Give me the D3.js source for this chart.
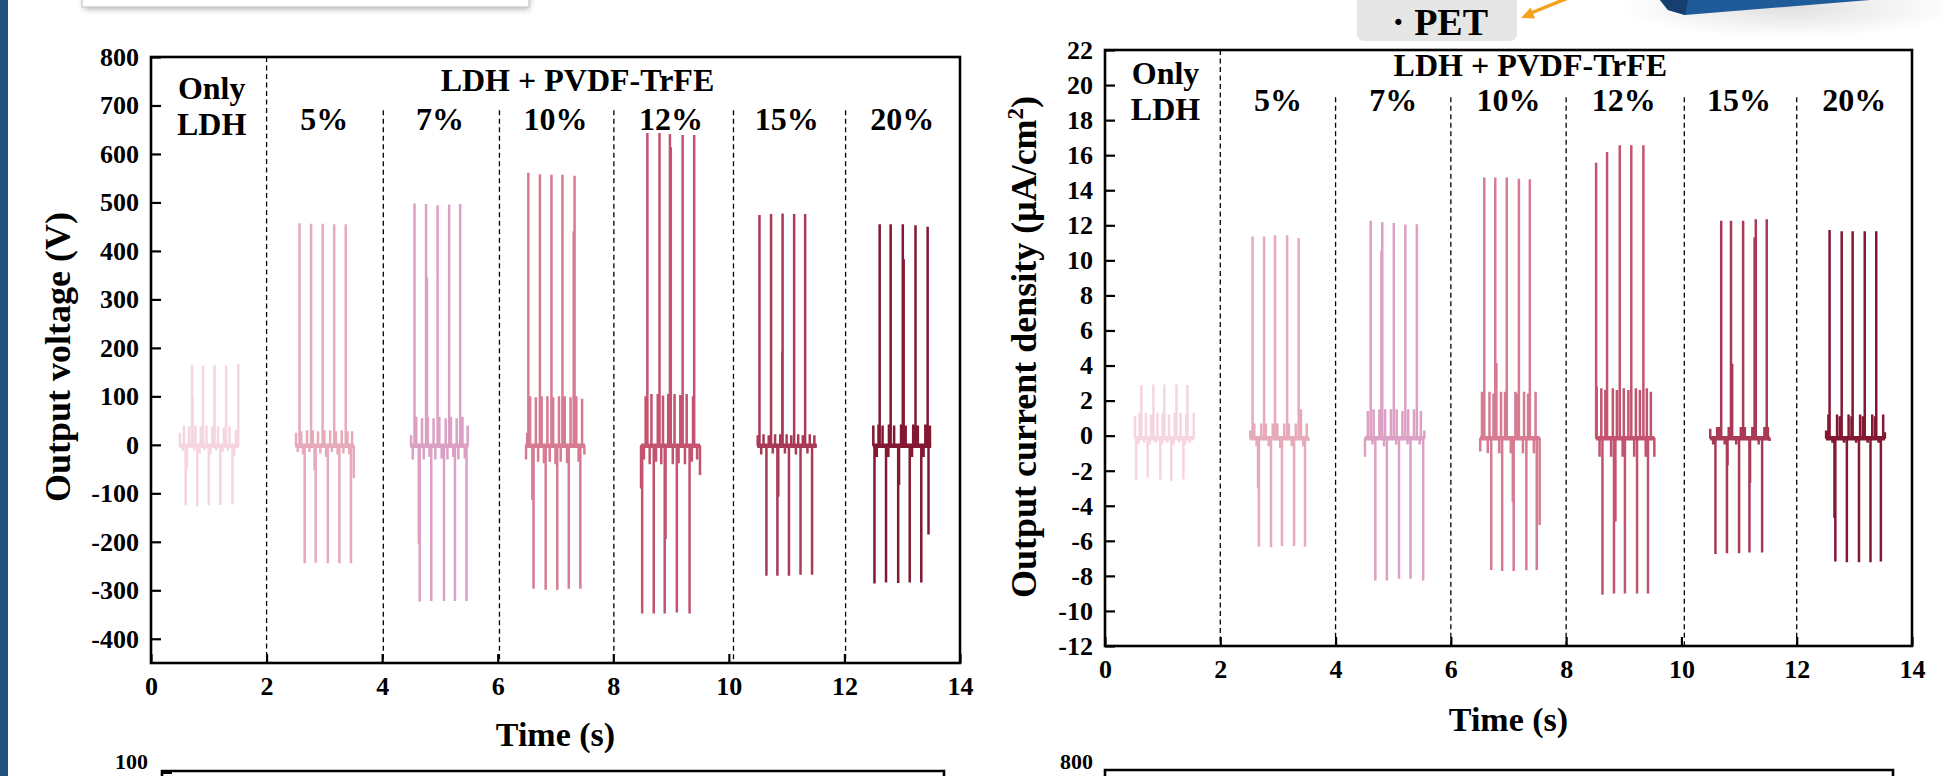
<!DOCTYPE html>
<html><head><meta charset="utf-8">
<script src="https://cdn.jsdelivr.net/npm/d3@7"></script>
<style>
html,body{margin:0;padding:0;background:#fff;overflow:hidden;}
svg{display:block;}
text{font-family:"Liberation Serif","Times New Roman",serif;font-weight:bold;fill:#000;}
</style></head><body>
<svg id="fig" width="1942" height="776"></svg>
<script>
// ---------------- DATA ----------------
const xTicks = [0,2,4,6,8,10,12,14];
const voltTicks = [-400,-300,-200,-100,0,100,200,300,400,500,600,700,800];
const currTicks = [-12,-10,-8,-6,-4,-2,0,2,4,6,8,10,12,14,16,18,20,22];
const groupTitle = "LDH + PVDF-TrFE";
const ldhLabel = ["Only","LDH"];
const segLabels = ["5%","7%","10%","12%","15%","20%"];
const segLabelX = [3,5,7,9,11,13];
const ldhLabelX = 1.05;
const groupTitleX = 7.38;
const segColors = ["#f5d5de","#e6aabb","#dba0c4","#d67b92","#c3536f","#a83a56","#821832"];
const voltDividers = [2,4.02,6.03,8.01,10.08,12.02];
const currDividers = [2,4,6,8,10.05,12];

// Output voltage (V)
const voltBase = -2;
const voltSpan = [[0.49,1.52],[2.50,3.51],[4.49,5.49],[6.48,7.51],[8.48,9.50],[10.49,11.52],[12.50,13.50]];
const voltPeakT = [
 [0.71,0.90,1.10,1.30,1.51],
 [2.57,2.77,2.97,3.17,3.37],
 [4.56,4.76,4.96,5.16,5.35],
 [6.53,6.73,6.93,7.12,7.33],
 [8.59,8.80,8.98,9.20,9.40],
 [10.53,10.73,10.93,11.13,11.32],
 [12.61,12.80,13.01,13.23,13.44]];
const voltPeakV = [
 [165,163,164,163,167],
 [457,456,456,455,455],
 [498,497,494,496,497],
 [561,558,557,557,555],
 [643,643,641,639,639],
 [474,476,477,476,476],
 [455,455,455,453,450]];
const voltValleyT = [
 [0.60,0.80,1.00,1.20,1.41],
 [2.66,2.85,3.06,3.26,3.46],
 [4.65,4.85,5.07,5.26,5.46],
 [6.62,6.83,7.03,7.23,7.43],
 [8.50,8.70,8.89,9.10,9.32],
 [10.65,10.84,11.04,11.24,11.44],
 [12.52,12.72,12.93,13.13,13.33]];
const voltValleyV = [
 [-125,-127,-125,-124,-123],
 [-244,-243,-244,-244,-244],
 [-323,-322,-322,-322,-322],
 [-297,-299,-299,-297,-297],
 [-348,-348,-348,-346,-348],
 [-270,-270,-270,-268,-268],
 [-286,-284,-285,-284,-284]];
const voltRing = [
 [[0.50,25],[0.55,-12],[0.57,40],[0.62,-50],[0.66,38],[0.72,100],[0.75,-12],[0.77,40],[0.84,-18],[0.86,38],[0.93,-10],[0.96,40],[1.03,-20],[1.06,38],[1.13,-12],[1.16,38],[1.24,-15],[1.26,36],[1.33,-12],[1.36,38],[1.44,-22],[1.47,30]],
 [[2.51,25],[2.54,-15],[2.60,28],[2.63,-20],[2.70,30],[2.74,-15],[2.80,30],[2.83,-53],[2.89,28],[2.93,-18],[3.00,30],[3.03,-25],[3.10,30],[3.13,-15],[3.20,28],[3.23,-20],[3.30,30],[3.33,-18],[3.40,28],[3.43,-20],[3.48,28],[3.51,-69]],
 [[4.50,20],[4.53,-30],[4.59,58],[4.635,-204],[4.69,55],[4.72,-30],[4.775,345],[4.79,58],[4.82,-25],[4.89,55],[4.92,-30],[4.99,58],[5.03,-28],[5.10,55],[5.13,-30],[5.19,58],[5.23,-25],[5.29,55],[5.32,-30],[5.39,58],[5.43,-28],[5.48,40]],
 [[6.49,-30],[6.51,25],[6.56,100],[6.60,-114],[6.66,98],[6.70,-35],[6.76,100],[6.80,-38],[6.86,100],[6.90,-35],[6.96,98],[7.00,-40],[7.06,100],[7.09,-35],[7.16,100],[7.20,-38],[7.26,98],[7.315,440],[7.36,100],[7.40,-35],[7.46,95],[7.50,-20]],
 [[8.48,-90],[8.53,-30],[8.56,100],[8.63,-40],[8.66,105],[8.74,-35],[8.77,105],[8.83,-40],[8.86,102],[8.905,-194],[8.95,105],[8.995,614],[9.03,-40],[9.06,105],[9.13,-38],[9.16,103],[9.24,-40],[9.27,105],[9.36,-35],[9.38,100],[9.45,-30],[9.50,-62]],
 [[10.50,20],[10.56,-20],[10.60,22],[10.69,20],[10.76,-18],[10.80,22],[10.855,-107],[10.89,22],[10.925,193],[10.97,-18],[11.00,22],[11.08,20],[11.16,-20],[11.20,22],[11.28,20],[11.36,-18],[11.40,22],[11.48,20]],
 [[12.50,40],[12.56,-25],[12.59,42],[12.66,40],[12.76,-25],[12.77,42],[12.86,40],[12.945,-83],[12.98,42],[13.025,383],[13.06,40],[13.17,-25],[13.19,42],[13.27,40],[13.37,-25],[13.40,42],[13.455,-185],[13.48,40]]];

// Output current density (uA/cm2)
const currBase = -0.15;
const currSpan = [[0.52,1.54],[2.52,3.53],[4.51,5.54],[6.51,7.54],[8.52,9.53],[10.50,11.53],[12.51,13.53]];
const currPeakT = [
 [0.63,0.84,1.03,1.24,1.43],
 [2.56,2.76,2.95,3.16,3.36],
 [4.61,4.81,5.01,5.21,5.41],
 [6.58,6.77,6.97,7.18,7.37],
 [8.52,8.71,8.93,9.13,9.34],
 [10.69,10.86,11.07,11.29,11.48],
 [12.57,12.78,12.97,13.18,13.38]];
const currPeakV = [
 [2.89,2.92,2.92,2.92,2.89],
 [11.36,11.36,11.43,11.43,11.28],
 [12.26,12.19,12.13,12.04,12.06],
 [14.72,14.72,14.72,14.65,14.63],
 [15.57,16.18,16.56,16.56,16.56],
 [12.26,12.26,12.26,12.34,12.34],
 [11.73,11.66,11.66,11.66,11.66]];
const currValleyT = [
 [0.54,0.74,0.96,1.15,1.36],
 [2.67,2.88,3.07,3.28,3.47],
 [4.69,4.89,5.10,5.30,5.52],
 [6.70,6.89,7.09,7.31,7.49],
 [8.63,8.83,9.02,9.23,9.42],
 [10.59,10.79,11.00,11.18,11.40],
 [12.67,12.87,13.08,13.28,13.46]];
const currValleyV = [
 [-2.55,-2.40,-2.50,-2.60,-2.50],
 [-6.33,-6.37,-6.30,-6.30,-6.33],
 [-8.26,-8.26,-8.16,-8.16,-8.26],
 [-7.66,-7.72,-7.72,-7.68,-7.66],
 [-9.07,-9.01,-9.01,-9.01,-9.01],
 [-6.75,-6.71,-6.71,-6.67,-6.67],
 [-7.18,-7.22,-7.22,-7.22,-7.18]];
const currRing = [
 [[0.52,1.1],[0.58,-0.5],[0.60,1.3],[0.68,-0.4],[0.71,1.3],[0.78,-0.5],[0.80,1.2],[0.88,-0.4],[0.91,1.3],[0.99,-0.5],[1.00,1.3],[1.08,-0.4],[1.11,1.2],[1.19,-0.5],[1.21,1.3],[1.29,-0.4],[1.31,1.3],[1.39,-0.5],[1.41,1.2],[1.47,-0.4],[1.54,1.3]],
 [[2.52,0.3],[2.59,0.7],[2.63,-0.6],[2.655,-3.0],[2.71,0.7],[2.79,0.7],[2.84,-0.6],[2.91,0.7],[2.99,0.7],[3.04,-0.7],[3.11,0.7],[3.19,0.7],[3.24,-0.6],[3.31,0.7],[3.40,1.5],[3.44,-0.6],[3.50,0.7],[3.53,-0.3]],
 [[4.51,-1.2],[4.56,1.4],[4.64,-0.5],[4.66,1.5],[4.76,1.5],[4.795,10.56],[4.84,-0.6],[4.86,1.5],[4.96,1.5],[5.05,-0.5],[5.06,1.5],[5.16,1.4],[5.25,-0.5],[5.26,1.5],[5.36,1.5],[5.46,-0.5],[5.48,1.4],[5.54,0.3]],
 [[6.51,-0.9],[6.54,2.5],[6.64,-1.0],[6.67,2.5],[6.74,2.4],[6.79,4.14],[6.84,-1.0],[6.87,2.5],[6.94,2.5],[7.04,-1.0],[7.075,-3.8],[7.12,2.5],[7.14,2.4],[7.25,-1.0],[7.27,2.5],[7.34,2.4],[7.44,-1.0],[7.47,2.5],[7.54,-5.1]],
 [[8.53,2.8],[8.58,-1.2],[8.61,2.7],[8.68,2.6],[8.78,-1.2],[8.81,2.7],[8.855,-4.9],[8.88,2.6],[8.98,-1.2],[9.00,2.7],[9.08,2.6],[9.18,-1.2],[9.21,2.7],[9.28,2.6],[9.38,-1.2],[9.40,2.7],[9.47,2.5],[9.53,-1.2]],
 [[10.50,0.4],[10.55,-0.5],[10.62,0.5],[10.66,0.5],[10.75,-0.5],[10.80,-1.7],[10.82,0.5],[10.88,4.1],[10.95,-0.5],[11.03,0.5],[11.10,0.5],[11.19,-2.7],[11.23,0.5],[11.27,11.3],[11.34,-0.5],[11.44,0.5],[11.50,0.5],[11.53,-0.3]],
 [[12.51,0.3],[12.55,1.2],[12.62,-0.4],[12.655,-4.7],[12.70,1.2],[12.75,1.1],[12.82,-0.4],[12.90,1.2],[12.95,1.1],[13.03,-0.4],[13.10,1.2],[13.15,1.1],[13.23,-0.4],[13.31,1.2],[13.36,1.1],[13.42,-0.4],[13.50,1.2],[13.53,0.2]]];

// ---------------- DRAW ----------------
const svg = d3.select("#fig");

// decorations from the surrounding figure
const defs = svg.append("defs");
const blur = defs.append("filter").attr("id","sh").attr("x","-20%").attr("y","-50%").attr("width","140%").attr("height","300%");
blur.append("feGaussianBlur").attr("stdDeviation",3);
const rg = defs.append("radialGradient").attr("id","shadowGrad");
rg.append("stop").attr("offset","0%").attr("stop-color","#000").attr("stop-opacity",0.12);
rg.append("stop").attr("offset","100%").attr("stop-color","#000").attr("stop-opacity",0);

svg.append("rect").attr("x",0).attr("y",0).attr("width",8).attr("height",776).attr("fill","#22507c");
svg.append("rect").attr("x",84).attr("y",-30).attr("width",445).attr("height",39).attr("fill","#888").attr("filter","url(#sh)").attr("opacity",0.7);
svg.append("rect").attr("x",82).attr("y",-30).attr("width",447).attr("height",37).attr("fill","#fff").attr("stroke","#c8c8c8").attr("stroke-width",1.2);

svg.append("ellipse").attr("cx",1790).attr("cy",8).attr("rx",170).attr("ry",30).attr("fill","url(#shadowGrad)");
svg.append("polygon").attr("points","1660,0 1668,10 1685,15 1870,0").attr("fill","#1f5a99");
svg.append("polygon").attr("points","1660,0 1668,10 1685,15 1688,0").attr("fill","#163f6e");

svg.append("rect").attr("x",1357).attr("y",-10).attr("width",160).attr("height",51).attr("rx",7).attr("fill","#e6e6e6");
svg.append("text").attr("x",1440).attr("y",35).attr("text-anchor","middle").style("font-size","38px").text("· PET");
svg.append("line").attr("x1",1568).attr("y1",-2).attr("x2",1531).attr("y2",13).attr("stroke","#f5a21c").attr("stroke-width",3.5);
svg.append("polygon").attr("points","1521,18 1535,18.4 1530.7,7.4").attr("fill","#f5a21c");

function drawChart(cfg){
  const {x, y, ticks, base, span, peakT, peakV, valT, valV, ring, dividers, divTop, labY, title, titleX, titleY} = cfg;
  const g = svg.append("g");
  const [x0,x1] = x.range();
  const [yb,yt] = y.range();
  const line = d3.line().x(d=>x(d[0])).y(d=>y(d[1]));

  span.forEach((sp,i)=>{
    const pts = [];
    peakT[i].forEach((t,j)=>pts.push([t,peakV[i][j]]));
    valT[i].forEach((t,j)=>pts.push([t,valV[i][j]]));
    ring[i].forEach(p=>pts.push(p));
    pts.sort((a,b)=>a[0]-b[0]);
    const seq = [[sp[0],base]];
    pts.forEach(([t,v])=>{ seq.push([t,base]); seq.push([t,v]); seq.push([t,base]); });
    seq.push([sp[1],base]);
    g.append("path").attr("d",line(seq)).attr("fill","none").attr("stroke",segColors[i])
      .attr("stroke-width",2.5).attr("stroke-linejoin","bevel");
    g.append("line").attr("x1",x(sp[0])).attr("x2",x(sp[1])).attr("y1",y(base)).attr("y2",y(base))
      .attr("stroke",segColors[i]).attr("stroke-width",4.5);
  });

  // dividers
  g.selectAll(".div").data(dividers).enter().append("line")
    .attr("x1",d=>x(d)).attr("x2",d=>x(d))
    .attr("y1",(d,i)=> i===0 ? yt : y(divTop)).attr("y2",yb)
    .attr("stroke","#000").attr("stroke-width",1.3).attr("stroke-dasharray","5,3.5");

  // axes
  const ax = g.append("g").attr("transform",`translate(0,${yb})`)
    .call(d3.axisBottom(x).tickValues(xTicks).tickSize(-9).tickPadding(14).tickFormat(d=>String(d)));
  ax.select(".domain").remove();
  ax.selectAll("line").attr("stroke","#000").attr("stroke-width",2.2);
  ax.selectAll("text").style("font-size","26px");
  const ay = g.append("g").attr("transform",`translate(${x0},0)`)
    .call(d3.axisLeft(y).tickValues(ticks).tickSize(-10).tickPadding(12).tickFormat(d=>String(d)));
  ay.select(".domain").remove();
  ay.selectAll("line").attr("stroke","#000").attr("stroke-width",2.2);
  ay.selectAll("text").style("font-size","26px");

  g.append("rect").attr("x",x0).attr("y",yt).attr("width",x1-x0).attr("height",yb-yt)
    .attr("fill","none").attr("stroke","#000").attr("stroke-width",2.6);

  // labels
  g.append("text").attr("x",x(ldhLabelX)).attr("y",labY.only).attr("text-anchor","middle").style("font-size","32px").text(ldhLabel[0]);
  g.append("text").attr("x",x(ldhLabelX)).attr("y",labY.ldh).attr("text-anchor","middle").style("font-size","32px").text(ldhLabel[1]);
  g.append("text").attr("x",x(groupTitleX)).attr("y",labY.group).attr("text-anchor","middle").style("font-size","32px").text(groupTitle);
  g.selectAll(".seg").data(segLabels).enter().append("text")
    .attr("x",(d,i)=>x(segLabelX[i])).attr("y",labY.pct).attr("text-anchor","middle").style("font-size","32px").text(d=>d);

  // axis titles
  g.append("text").attr("x",(x0+x1)/2).attr("y",labY.time).attr("text-anchor","middle").style("font-size","34px").text("Time (s)");
  const yt2 = g.append("text").attr("transform",`translate(${titleX},${titleY}) rotate(-90)`).attr("text-anchor","middle").style("font-size","36px");
  title(yt2);
}

const xV = d3.scaleLinear().domain([0,14]).range([151,960]);
const yV = d3.scaleLinear().domain([-450,800]).range([663,57]);
const xC = d3.scaleLinear().domain([0,14]).range([1105,1912]);
const yC = d3.scaleLinear().domain([-12,22]).range([646,50]);

drawChart({x:xV, y:yV, ticks:voltTicks, base:voltBase, span:voltSpan, peakT:voltPeakT, peakV:voltPeakV,
  valT:voltValleyT, valV:voltValleyV, ring:voltRing, dividers:voltDividers, divTop:690,
  labY:{only:99, ldh:135, group:91, pct:130, time:746},
  title:t=>t.text("Output voltage (V)"), titleX:70, titleY:357});

drawChart({x:xC, y:yC, ticks:currTicks, base:currBase, span:currSpan, peakT:currPeakT, peakV:currPeakV,
  valT:currValleyT, valV:currValleyV, ring:currRing, dividers:currDividers, divTop:19.3,
  labY:{only:84, ldh:120, group:76, pct:111, time:731},
  title:t=>{ t.append("tspan").text("Output current density (μA/cm"); t.append("tspan").attr("dy",-13).style("font-size","23px").text("2"); t.append("tspan").attr("dy",13).text(")"); },
  titleX:1036, titleY:347});

// partial panels below (cut by the frame)
svg.append("path").attr("d","M162,778 V771 H944 V778").attr("fill","none").attr("stroke","#000").attr("stroke-width",2.6);
svg.append("line").attr("x1",162).attr("x2",172).attr("y1",773).attr("y2",773).attr("stroke","#000").attr("stroke-width",2);
svg.append("text").attr("x",148).attr("y",769).attr("text-anchor","end").style("font-size","22px").text("100");
svg.append("path").attr("d","M1105,778 V770 H1893 V778").attr("fill","none").attr("stroke","#000").attr("stroke-width",2.6);
svg.append("text").attr("x",1093).attr("y",769).attr("text-anchor","end").style("font-size","22px").text("800");
</script>
</body></html>
